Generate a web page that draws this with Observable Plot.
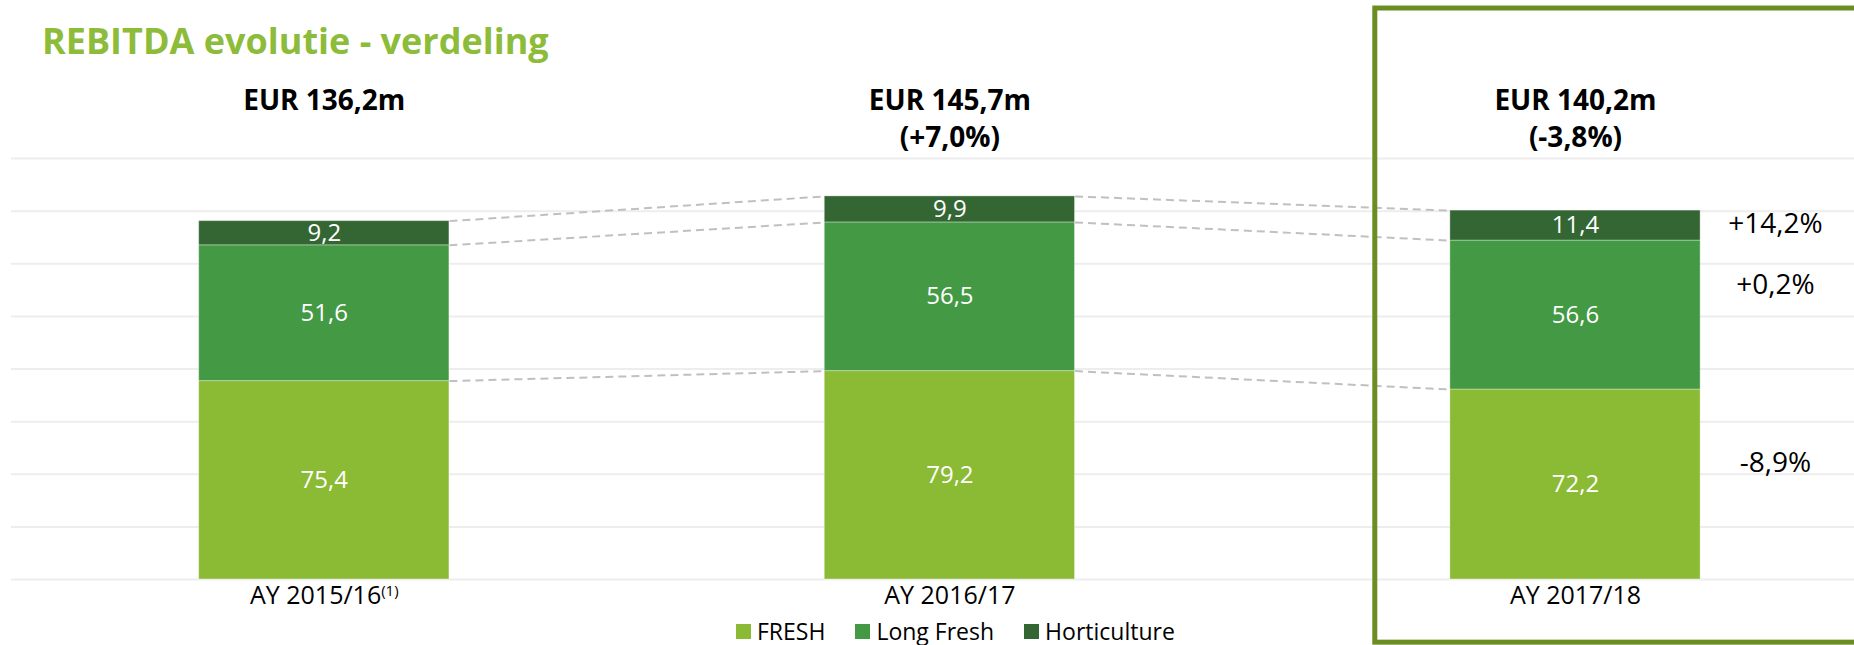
<!DOCTYPE html>
<html><head><meta charset="utf-8">
<script src="https://cdn.jsdelivr.net/npm/d3@7"></script>
<script src="https://cdn.jsdelivr.net/npm/@observablehq/plot@0.6"></script>
<style>
html,body{margin:0;padding:0;background:#fff;}
body{width:1854px;height:645px;overflow:hidden;font-family:"Open Sans",sans-serif;}
#title{box-sizing:border-box;height:62px;padding:23px 0 0 42px;font-size:36px;line-height:1;font-weight:700;color:#8DBB3A;white-space:nowrap;}
#legend{box-sizing:border-box;height:30px;padding:2px 0 0 736px;display:flex;align-items:center;font-size:23px;line-height:1;color:#000;}
.item{display:inline-flex;align-items:center;margin-right:30px;}
.sw{width:15px;height:15px;margin-right:6px;display:inline-block;}
</style></head><body>
<div id="title">REBITDA evolutie - verdeling</div>
<div id="chart"></div>
<div id="legend"></div>
<script>
// ---- data ----
const years = ["AY 2015/16", "AY 2016/17", "AY 2017/18"];
const yearNotes = ["(1)", "", ""];
const segments = ["FRESH", "Long Fresh", "Horticulture"];
const segmentColors = ["#8BBA34", "#449944", "#336633"];
const fresh = [75.4, 79.2, 72.2];
const longFresh = [51.6, 56.5, 56.6];
const horticulture = [9.2, 9.9, 11.4];
const totals = [136.2, 145.7, 140.2];
const totalChange = ["", "+7,0%", "-3,8%"];
const segmentChange = ["-8,9%", "+0,2%", "+14,2%"]; // AY 2017/18 vs AY 2016/17
const yTicks = [0, 20, 40, 60, 80, 100, 120, 140, 160];

// ---- build tables ----
const series = [fresh, longFresh, horticulture];
const fmt = v => v.toFixed(1).replace(".", ",");
const rows = [];
years.forEach((year, i) => {
  let cum = 0;
  segments.forEach((seg, k) => {
    const value = series[k][i];
    rows.push({i, year, k, segment: seg, value, y1: cum, y2: cum + value});
    cum += value;
  });
});
const half = 0.2; // half bar width in band units
const links = [];
for (let i = 0; i < years.length - 1; i++) {
  segments.forEach((seg, k) => {
    const a = rows.find(r => r.i === i && r.k === k);
    const b = rows.find(r => r.i === i + 1 && r.k === k);
    links.push({x1: i + half, x2: i + 1 - half, y1: a.y2, y2: b.y2});
  });
}
const last = years.length - 1;
const lastRows = rows.filter(r => r.i === last);
const pctNudge = [-21, -30, -2];

const chart = Plot.plot({
  width: 1854, height: 553,
  marginLeft: 11, marginRight: 0, marginTop: 96, marginBottom: 36,
  style: {overflow: "visible", fontFamily: "'Open Sans', sans-serif", background: "transparent"},
  x: {type: "linear", domain: [-0.5, 2.446]},
  y: {domain: [0, 160], axis: null},
  color: {domain: segments, range: segmentColors},
  marks: [
    Plot.gridY(yTicks, {stroke: "#ededed", strokeOpacity: 1, strokeWidth: 2}),
    Plot.link(links, {x1: "x1", x2: "x2", y1: "y1", y2: "y2", stroke: "#c0c0c0", strokeWidth: 2, strokeDasharray: "8 5"}),
    Plot.rect(rows, {x1: d => d.i - half, x2: d => d.i + half, y1: "y1", y2: "y2", fill: "segment",
      stroke: "white", strokeOpacity: 0.35, strokeWidth: 1}),
    Plot.text(rows, {x: "i", y: d => (d.y1 + d.y2) / 2, text: d => fmt(d.value), fill: "white", fontSize: 24}),
    Plot.text(years, {x: (d, i) => i, frameAnchor: "top", dy: -75, lineAnchor: "top",
      text: (d, i) => "EUR " + fmt(totals[i]) + "m" + (totalChange[i] ? "\n(" + totalChange[i] + ")" : ""),
      fontSize: 28, fontWeight: "bold", lineHeight: 1.32, fill: "black"}),
    ...lastRows.map((r, k) => Plot.text([r], {x: "i", y: d => (d.y1 + d.y2) / 2, dx: 200, dy: pctNudge[k],
      text: d => segmentChange[d.k], fontSize: 28, fill: "black"})),
    Plot.axisX({ticks: years.map((d, i) => i), tickFormat: i => years[i], tickSize: 0, tickPadding: 7,
      fontSize: 25, color: "black"}),
    Plot.rect([last], {x1: d => d - 0.32, x2: d => d + 1, y1: -24, y2: 217,
      fill: "none", stroke: "#6B8E23", strokeWidth: 5})
  ]
});
document.getElementById("chart").appendChild(chart);

// superscript footnote markers on x labels
d3.select(chart).selectAll("text").each(function() {
  const t = this.textContent;
  const i = years.indexOf(t);
  if (i >= 0 && yearNotes[i]) {
    d3.select(this).append("tspan").attr("dy", -8).attr("font-size", 15).text(yearNotes[i]);
  }
});

// legend
const legend = d3.select("#legend");
segments.forEach((s, k) => {
  const it = legend.append("span").attr("class", "item");
  it.append("span").attr("class", "sw").style("background", segmentColors[k]);
  it.append("span").text(s);
});
</script>
</body></html>
